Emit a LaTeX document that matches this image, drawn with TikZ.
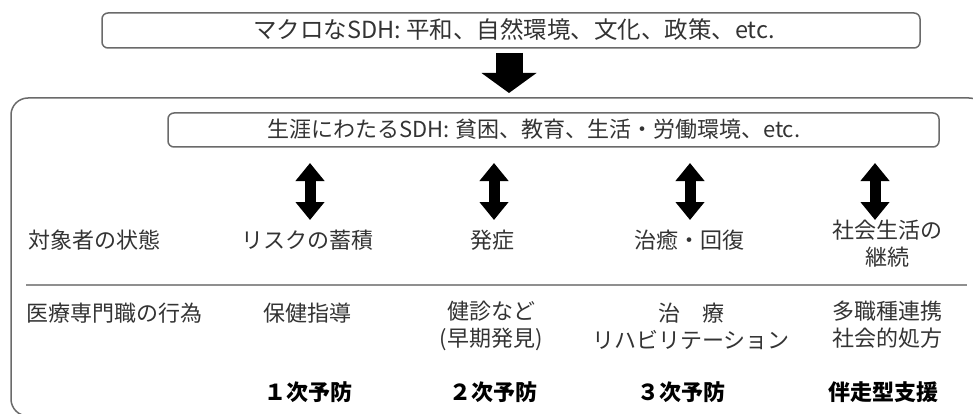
\documentclass[tikz,border=0pt]{standalone}
\usepackage{fontspec}
\setmainfont{Noto Sans CJK JP}
\usetikzlibrary{arrows.meta}
\definecolor{boxline}{HTML}{6A6A6A}
\definecolor{txt}{HTML}{333333}
\tikzset{
  frame/.style={draw=boxline, line width=1.5pt, rounded corners=6pt},
  bigframe/.style={draw=boxline, line width=1.5pt, rounded corners=17pt},
  lbl/.style={text=txt, font=\fontsize{22}{27}\selectfont, inner sep=0pt, align=center},
  boldlbl/.style={text=black, font=\fontsize{22}{27}\selectfont\bfseries, inner sep=0pt, align=center},
  dblarrow/.style={line width=11pt, {Triangle[width=28pt,length=18pt]}-{Triangle[width=28pt,length=18pt]}},
  downarrow/.style={line width=27pt, -{Triangle[width=54pt,length=20pt]}},
}
\begin{document}
\begin{tikzpicture}[x=1pt,y=-1pt]
\useasboundingbox (0,0) rectangle (973,414);
% frames
\draw[bigframe] (11,98) rectangle (986,416);
\node[frame, minimum width=818pt, minimum height=35pt, inner sep=0pt] (macro) at (511,30.5) {};
\node[lbl, font=\fontsize{23.5}{27}\selectfont] (macrot) at (514,30) {マクロなSDH: 平和、自然環境、文化、政策、etc.};
\node[frame, minimum width=771pt, minimum height=34pt, inner sep=0pt] (life) at (553.5,130) {};
\node[lbl, font=\fontsize{22}{27}\selectfont] (lifet) at (534,129) {生涯にわたるSDH: 貧困、教育、生活・労働環境、etc.};
% big arrow
\coordinate (da1) at (509,53);
\coordinate (da2) at (509,93);
\draw[downarrow] (da1) -- (da2);
% divider
\coordinate (hl1) at (26,285);
\coordinate (hl2) at (967,285);
\draw[draw=boxline!75, line width=1.1pt] (hl1) -- (hl2);
% double arrows
\foreach \n/\x in {a/310, b/494, c/690, d/875} {
  \coordinate (\n top) at (\x,163);
  \coordinate (\n bot) at (\x,220);
  \draw[dblarrow] (\n top) -- (\n bot);
}
% row 1
\node[lbl, anchor=west] (state) at (28,240) {対象者の状態};
\node[lbl] (s1) at (307,240) {リスクの蓄積};
\node[lbl] (s2) at (492,240) {発症};
\node[lbl] (s3) at (689,240) {治癒・回復};
\node[lbl] (s4) at (887,244) {社会生活の\\継続};
% row 2
\node[lbl, anchor=west] (act) at (26,313) {医療専門職の行為};
\node[lbl] (a1) at (307,313) {保健指導};
\node[lbl] (a2) at (491,326) {健診など\\(早期発見)};
\node[lbl] (a3) at (691,326) {治　療\\リハビリテーション};
\node[lbl] (a4) at (887,325) {多職種連携\\社会的処方};
% row 3
\node[boldlbl] (p1) at (308,392) {１次予防};
\node[boldlbl] (p2) at (493,392) {２次予防};
\node[boldlbl] (p3) at (681,392) {３次予防};
\node[boldlbl] (p4) at (883,392) {伴走型支援};
\end{tikzpicture}
\end{document}
